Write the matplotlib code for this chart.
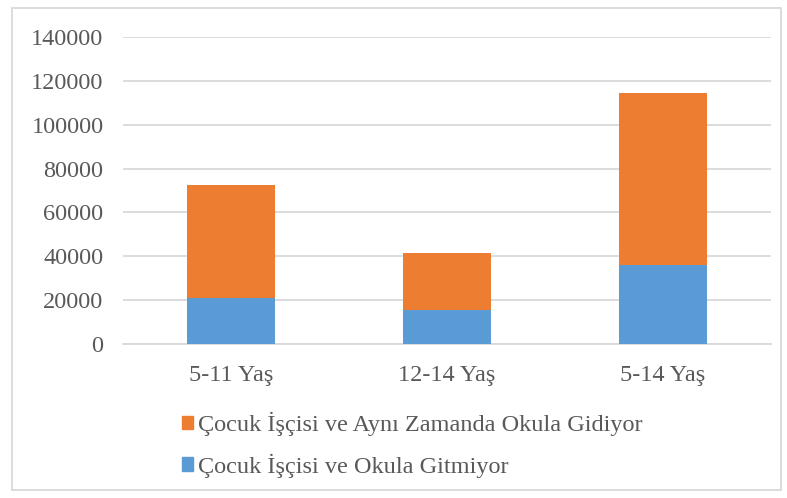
import matplotlib.pyplot as plt
import matplotlib.patches as mpatches
import numpy as np

categories = ['5-11 Yaş', '12-14 Yaş', '5-14 Yaş']
okula_gitmiyor = [20800, 15450, 35900]
okula_gidiyor = [51800, 26250, 78550]  # toplam - gitmiyor

labels = ['Çocuk İşçisi ve Aynı Zamanda Okula Gidiyor',
          'Çocuk İşçisi ve Okula Gitmiyor']

plt.rcParams['font.family'] = ['Liberation Serif', 'DejaVu Serif']

fig = plt.figure(figsize=(7.87, 4.98), dpi=100)
ax = fig.add_axes([123 / 787, 1 - 344 / 498, 648 / 787, 307 / 498])

x = np.arange(len(categories))
ax.bar(x, okula_gitmiyor, width=0.405, color='#5B9BD5', zorder=3)
ax.bar(x, okula_gidiyor, width=0.405, bottom=okula_gitmiyor,
       color='#ED7D31', zorder=3)

ax.set_xlim(-0.5, 2.5)
ax.set_ylim(0, 140000)
ax.set_yticks(np.arange(0, 140001, 20000))
ax.set_xticks(x)
ax.set_xticklabels(categories)
ax.tick_params(length=0, labelsize=17.5, colors='#595959')
ax.tick_params(axis='y', pad=14)
ax.tick_params(axis='x', pad=15)
ax.grid(axis='y', color='#D9D9D9', linewidth=1.3, zorder=0)
for s in ['top', 'right', 'left']:
    ax.spines[s].set_visible(False)
ax.spines['bottom'].set_color('#D9D9D9')
ax.spines['bottom'].set_linewidth(1.3)

handles = [mpatches.Patch(color='#ED7D31'), mpatches.Patch(color='#5B9BD5')]
fig.legend(handles, labels, loc='upper left',
           bbox_to_anchor=(160 / 787, 1 - 390 / 498), frameon=False,
           fontsize=17.5, labelcolor='#595959', handlelength=0.45,
           handleheight=0.45, handletextpad=0.2, labelspacing=0.72)

fig.patches.append(mpatches.Rectangle((12 / 787, 8 / 498), 769 / 787, 482 / 498,
                                      transform=fig.transFigure, fill=False,
                                      edgecolor='#D9D9D9', linewidth=1.3))

plt.savefig('out.png', dpi=100)
plt.close()
